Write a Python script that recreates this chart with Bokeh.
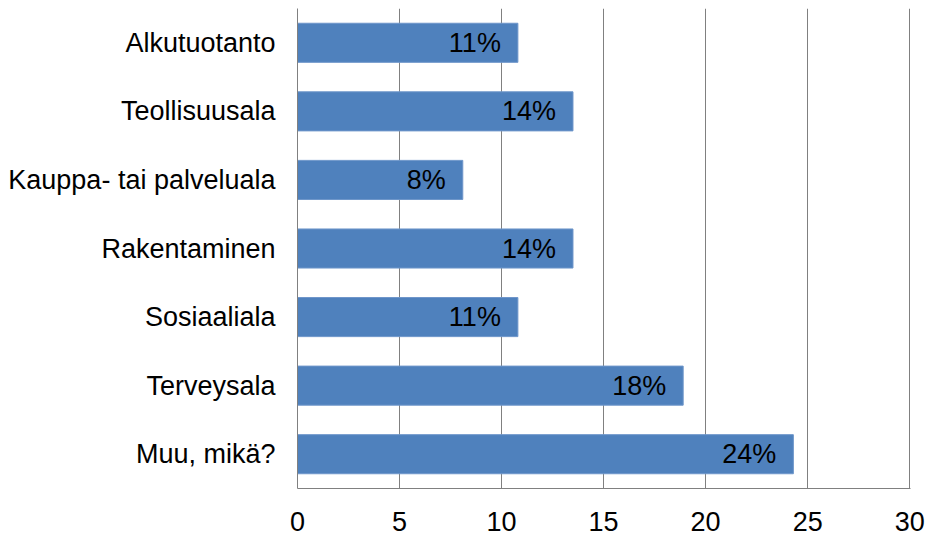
from bokeh.plotting import figure
from bokeh.models import ColumnDataSource, FactorRange, Range1d, FixedTicker
from bokeh.core.properties import value
from bokeh.embed import file_html
from bokeh.resources import INLINE

categories = ["Alkutuotanto", "Teollisuusala", "Kauppa- tai palveluala", "Rakentaminen",
              "Sosiaaliala", "Terveysala", "Muu, mikä?"]
values = [10.8, 13.5, 8.1, 13.5, 10.8, 18.9, 24.3]
labels = ["11%", "14%", "8%", "14%", "11%", "18%", "24%"]
x_ticks = [0, 5, 10, 15, 20, 25, 30]

FONT = "Liberation Sans"
GRID = "#808080"

src = ColumnDataSource(dict(cat=categories, val=values, lab=labels))

p = figure(width=926, height=535, output_backend="svg", toolbar_location=None,
           y_range=FactorRange(factors=list(reversed(categories)), range_padding=0),
           x_range=Range1d(0, 30.04),
           min_border_left=297, min_border_right=16, min_border_top=8, min_border_bottom=47)
p.outline_line_color = None
p.background_fill_color = "white"

p.hbar(y="cat", right="val", left=0, height=0.57, source=src,
       fill_color="#4F81BD", line_color="#6E96CA", line_width=1)

p.text(x="val", y="cat", text="lab", source=src, text_align="right", text_baseline="middle",
       x_offset=-17, text_font=value(FONT), text_font_size="27px", text_color="black")

p.xaxis.ticker = FixedTicker(ticks=x_ticks)
p.xaxis.axis_line_color = GRID
p.xaxis.major_tick_line_color = None
p.xaxis.minor_tick_line_color = None
p.xaxis.major_tick_out = 0
p.xaxis.major_label_standoff = 23
p.xaxis.major_label_text_font = FONT
p.xaxis.major_label_text_font_size = "27px"
p.xaxis.major_label_text_color = "black"

p.yaxis.axis_line_color = GRID
p.yaxis.major_tick_line_color = None
p.yaxis.minor_tick_line_color = None
p.yaxis.major_tick_out = 0
p.yaxis.major_label_standoff = 22
p.yaxis.major_label_text_font = FONT
p.yaxis.major_label_text_font_size = "27px"
p.yaxis.major_label_text_color = "black"

p.ygrid.grid_line_color = None
p.xgrid.grid_line_color = GRID
p.xgrid.grid_line_width = 1

open("out.html", "w").write(file_html(p, INLINE))
